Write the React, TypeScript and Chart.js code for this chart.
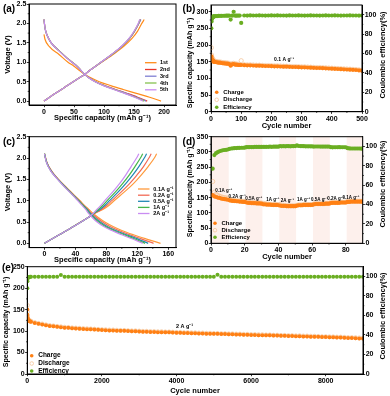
import React, { useEffect, useRef } from 'react';
import { Chart, registerables } from 'chart.js';
Chart.register(...registerables);

const FONT = "'Liberation Sans', Arial, Helvetica, sans-serif";
const W = 390;
const H = 396;

// ---------- Panel (a): galvanostatic curves, first five cycles ----------
const aSeries = ['1st', '2nd', '3rd', '4th', '5th'];
const aColors = ['#FF8C1A', '#E8352B', '#7F7FD2', '#86C24F', '#C98CF2'];
const aDisV1 = [1.72, 1.6, 1.4, 1.2, 1.0, 0.9, 0.8, 0.7, 0.6, 0.5, 0.4, 0.3, 0.2, 0.1, 0.0];
const aDisQ1 = [0, 1.5, 9, 25, 40, 50, 58, 67, 78, 92, 111, 132, 154, 176, 195];
const aDisV = [2.1, 1.9, 1.7, 1.5, 1.3, 1.1, 1.0, 0.9, 0.8, 0.7, 0.6, 0.5, 0.4, 0.3, 0.2, 0.1, 0.0];
const aDisQ2 = [0, 1.5, 5, 12, 25, 39, 47, 55, 61, 67, 75, 86, 101, 119, 138, 156, 172];
const aDisQ3 = [0, 1.5, 5, 12, 25, 39, 47, 55, 61, 67, 75, 86, 100, 118, 137, 154, 170];
const aDisQ4 = [0, 1.5, 5, 12, 25, 39, 47, 55, 61, 67, 74.5, 85.5, 100, 117, 135, 152, 167];
const aDisQ5 = [0, 1.5, 5, 12, 24.5, 38.5, 46.5, 54.5, 61, 67, 74.5, 85, 99, 116, 134, 151, 165];
const aChV = [0, 0.2, 0.4, 0.6, 0.7, 0.8, 0.9, 1.0, 1.2, 1.4, 1.6, 1.8, 2.0, 2.1];
const aChQ1 = [0, 19, 39, 59, 69, 77, 86, 96, 115, 132, 146, 156, 163, 167];
const aChQ2 = [0, 19, 39, 59, 69, 77, 86, 95, 113, 129, 142, 151, 158, 161];
const aChQ3 = [0, 19, 39, 59, 69, 77, 86, 95, 113, 129, 142, 151, 158, 161.5];
const aChQ4 = [0, 19, 39, 59, 69, 77, 86, 95, 113, 129, 141.5, 150.5, 157.5, 160];
const aChQ5 = [0, 19, 39, 59, 69, 77, 86, 95, 112.5, 128.5, 141, 150, 157, 159.5];

// ---------- Panel (c): curves at different rates ----------
const cSeries = ['0.1A g⁻¹', '0.2A g⁻¹', '0.5A g⁻¹', '1A g⁻¹', '2A g⁻¹'];
const cColors = ['#FF9A3C', '#F26A55', '#2088B4', '#45B649', '#C98CF2'];
const cDisV = [2.1, 1.9, 1.7, 1.5, 1.3, 1.1, 1.0, 0.9, 0.8, 0.7, 0.6, 0.5, 0.4, 0.3, 0.2, 0.1, 0.0];
const cDisQ01 = [0, 3, 9, 18, 29, 40, 46, 51, 57, 63, 70, 78, 88, 100, 115, 132, 150];
const cDisQ02 = [0, 3, 9, 18, 28.5, 39.5, 45, 50, 55.5, 61, 67.5, 75, 84, 96, 110, 126, 141];
const cDisQ05 = [0, 2.8, 8.5, 17.5, 28, 39, 44.5, 49.5, 55, 59.5, 65, 72, 80.5, 92, 106, 121, 134];
const cDisQ1 = [0, 2.6, 8.2, 17.2, 27.5, 38.5, 44, 49, 54, 58, 63.5, 70, 78, 89.5, 103, 117, 130];
const cDisQ2 = [0, 2.5, 8, 17, 27, 38, 43, 48, 53, 57, 62, 68, 76, 87, 100, 114, 127];
const cChV = [0, 0.2, 0.4, 0.6, 0.7, 0.8, 0.9, 1.0, 1.2, 1.4, 1.6, 1.8, 2.0, 2.1];
const cChQ01 = [0, 19, 38, 56, 65, 76, 84, 90, 103, 115, 125, 134, 142, 145];
const cChQ02 = [0, 19, 38, 56, 64.5, 74, 81, 87, 99, 110, 119.5, 128, 135, 138];
const cChQ05 = [0, 19, 38, 56, 64, 72, 78.5, 84, 95, 105, 114, 122, 129, 132];
const cChQ1 = [0, 19, 38, 56, 63.5, 70, 76, 81, 91.5, 101, 109.5, 117, 124, 127];
const cChQ2 = [0, 19, 38, 56, 63, 68, 73.5, 78, 88, 97, 105, 112, 119, 122];

// ---------- Panel (b): 500 cycles at 0.1 A/g ----------
const bCycles = [1, 2, 3, 4, 5, 6, 7, 8, 9, 10, 15, 20, 25, 30, 35, 40, 45, 50, 55, 60, 65, 70, 75, 80, 85, 90, 95, 100,
  110, 120, 130, 140, 150, 160, 170, 180, 190, 200, 210, 220, 230, 240, 250, 260, 270, 280, 290, 300,
  310, 320, 330, 340, 350, 360, 370, 380, 390, 400, 410, 420, 430, 440, 450, 460, 470, 480, 490, 500];
const bCharge = [166, 160, 157, 155, 154, 153, 152, 151, 150, 150, 149, 148, 147, 147, 146, 145, 145, 144, 144, 143,
  138, 142, 143, 141, 141, 140, 140, 140,
  139.5, 139, 139, 138.5, 138, 138, 137.5, 137, 137, 136.5, 136, 136, 135.5, 135, 135, 134.5, 134, 134, 133.5, 133,
  133, 132.5, 132, 131.5, 131, 131, 130.5, 130, 129.5, 129, 128.5, 128, 127.5, 127, 126.5, 126, 125.5, 125, 124, 123];
const bDischarge = [192, 170, 163, 160, 158, 156, 155, 154, 153, 152, 151, 150, 149, 149, 148, 147, 147, 146, 146, 145,
  141, 144, 145, 143, 143, 142, 142, 153,
  141, 140.5, 140.5, 140, 139.5, 139.5, 139, 138.5, 138.5, 138, 137.5, 137.5, 137, 136.5, 136.5, 136, 135.5, 135.5, 135, 134.5,
  134.5, 134, 133.5, 133, 132.5, 132.5, 132, 131.5, 131, 130.5, 130, 129.5, 129, 128.5, 128, 127.5, 127, 126.5, 125.5, 124.5];
const bEfficiency = [86, 93, 95.5, 96.5, 97, 97.5, 97.8, 98, 98.2, 98.3, 98.5, 98.6, 98.7, 98.8, 98.8, 98.9, 98.9, 99, 99, 99,
  95, 99, 103, 99, 99, 99.1, 99.1, 91.5,
  99.2, 99.1, 99.3, 99.2, 99.2, 99.3, 99.2, 99.1, 99.2, 99.3, 99.2, 99.3, 99.2, 99.2, 99.1, 99.3, 99.2, 99.2, 99.3, 99.2,
  99.1, 99.2, 99.3, 99.2, 99.2, 99.1, 99.2, 99.3, 99.2, 99.2, 99.3, 99.2, 99.1, 99.2, 99.2, 99.3, 99.2, 99.2, 99.1, 99.2];

// ---------- Panel (d): rate capability, 90 cycles ----------
const dCycles = Array.from({ length: 90 }, (_, i) => i + 1);
const dCharge = [158, 154, 152, 150, 149, 147, 146, 145, 144, 143,
  141, 140, 139, 139, 138, 138, 137, 137, 136, 136,
  134, 133, 133, 132, 132, 132, 131, 131, 131, 130,
  128, 128, 127, 127, 127, 126, 126, 126, 126, 125,
  124, 123, 123, 123, 122, 122, 122, 122, 122, 122,
  124, 125, 125, 125, 126, 126, 126, 126, 126, 126,
  128, 129, 129, 129, 129, 129, 129, 130, 130, 130,
  132, 133, 133, 133, 133, 133, 134, 134, 134, 134,
  136, 136, 137, 137, 137, 137, 137, 137, 137, 137];
const dDischarge = [203, 168, 161, 157, 155, 153, 151, 150, 149, 148,
  144, 142, 141, 140, 140, 139, 139, 138, 138, 138,
  137, 135, 134, 134, 133, 133, 133, 132, 132, 132,
  131, 130, 129, 128, 128, 128, 127, 127, 127, 127,
  127, 125, 124, 124, 123, 123, 123, 123, 123, 123,
  125, 126, 126, 126, 127, 127, 127, 127, 127, 127,
  129, 130, 130, 130, 130, 130, 130, 131, 131, 131,
  134, 134, 134, 134, 134, 134, 135, 135, 135, 135,
  138, 138, 138, 138, 138, 138, 138, 138, 138, 138];
const dEfficiency = [77, 91, 93, 94, 95, 95.5, 96, 96.3, 96.5, 96.8,
  97.5, 97.8, 98, 98.2, 98.3, 98.4, 98.5, 98.6, 98.6, 98.7,
  99.2, 99.2, 99.3, 99.3, 99.3, 99.4, 99.4, 99.4, 99.4, 99.5,
  99.6, 99.5, 99.6, 99.6, 99.7, 99.6, 99.7, 99.7, 99.7, 99.7,
  100.3, 100.1, 100.2, 100.1, 100.2, 100.2, 100.1, 100.2, 100.2, 100.3,
  101, 100.4, 100.3, 100.2, 100.2, 100.1, 100.1, 100.1, 100.1, 100,
  99.8, 99.9, 99.9, 99.9, 99.8, 99.8, 99.8, 99.8, 99.8, 99.8,
  99.3, 99, 99.1, 99.1, 99.1, 99.2, 99.1, 99.1, 99.1, 99.1,
  98.2, 97.9, 97.8, 97.8, 97.8, 97.8, 97.8, 97.8, 97.7, 97.7];
const dRateLabels = ['0.1A g⁻¹', '0.2A g⁻¹', '0.5A g⁻¹', '1A g⁻¹', '2A g⁻¹', '1A g⁻¹', '0.5A g⁻¹', '0.2A g⁻¹', '0.1A g⁻¹'];
const dRateLabelCycle = [7.5, 15.5, 25.3, 36.7, 45.3, 55, 64.3, 74, 83];
const dRateLabelCap = [171, 153, 147, 142, 140, 142, 143, 147, 150];
const dBands = [[0.5, 10.5], [20.5, 30.5], [40.5, 50.5], [60.5, 70.5], [80.5, 90]];

// ---------- Panel (e): long cycling at 2 A/g ----------
const eCycles = [1, 3, 6, 10, 20, 35, 50, 75, ...Array.from({ length: 90 }, (_, i) => (i + 1) * 100)];
const eCharge = [150, 138, 131, 128, 126, 124.5, 123.5, 122.5,
  122, 119, 117, 115.5, 113.5, 112, 111, 110, 109, 108,
  107.5, 106.5, 106, 105.5, 105, 104.5, 104, 103.5, 103, 102.5,
  102, 101.5, 101.5, 101, 100.5, 100.5, 100, 99.5, 99.5, 99,
  98.5, 98.5, 98, 98, 97.5, 97.5, 97, 97, 96.5, 96,
  96, 95.5, 95.5, 95, 95, 94.5, 94.5, 94, 94, 93.5,
  93.5, 93, 93, 92.5, 92.5, 92, 92, 91.5, 91.5, 91,
  91, 90.5, 90.5, 90, 90, 89.5, 89.5, 89, 89, 88.5,
  88.5, 88, 88, 87.5, 87.5, 87, 87, 86.5, 86, 86,
  85.5, 85.5, 85, 85, 84.5, 84, 84, 83.5, 83, 82.5];
const eDischarge = [160, 145, 134, 130, 127.5, 125.5, 124.5, 123.5,
  123, 120, 118, 116.5, 114.5, 113, 112, 111, 110, 109,
  108.5, 107.5, 107, 106.5, 106, 105.5, 105, 104.5, 104, 103.5,
  103, 102.5, 102.5, 102, 101.5, 101.5, 101, 100.5, 100.5, 100,
  99.5, 99.5, 99, 99, 98.5, 98.5, 98, 98, 97.5, 97,
  97, 96.5, 96.5, 96, 96, 95.5, 95.5, 95, 95, 94.5,
  94.5, 94, 94, 93.5, 93.5, 93, 93, 92.5, 92.5, 92,
  92, 91.5, 91.5, 91, 91, 90.5, 90.5, 90, 90, 89.5,
  89.5, 89, 89, 88.5, 88.5, 88, 88, 87.5, 87, 87,
  86.5, 86.5, 86, 86, 85.5, 85, 85, 84.5, 84, 83.5];
const eEfficiency = [88, 95, 97.5, 98.5, 99, 99.3, 99.5, 99.6,
  99.7, 99.6, 99.7, 99.8, 99.7, 99.6, 99.7, 99.7, 101.5, 99.7,
  99.6, 99.7, 99.8, 99.7, 99.7, 99.6, 99.7, 99.7, 99.8, 99.7,
  99.7, 99.6, 99.7, 99.7, 99.8, 99.7, 99.6, 99.7, 99.7, 99.7,
  99.8, 99.7, 99.6, 99.7, 99.7, 99.7, 99.8, 99.7, 99.6, 99.7,
  99.7, 99.7, 99.8, 99.7, 99.6, 99.7, 99.7, 99.7, 99.8, 99.7,
  101.8, 99.7, 99.6, 99.7, 99.7, 99.8, 99.7, 99.7, 99.6, 99.7,
  99.7, 99.8, 99.7, 99.7, 99.6, 99.7, 99.7, 99.8, 99.7, 99.7,
  99.6, 99.7, 99.7, 99.8, 99.7, 99.7, 99.6, 99.7, 99.7, 99.7,
  99.8, 99.7, 99.6, 99.7, 99.7, 99.7, 99.8, 99.7, 99.6, 99.7];

// ---------- Tick values ----------
const voltTicks = [0, 0.5, 1.0, 1.5, 2.0, 2.5];
const aCapTicks = [0, 50, 100, 150, 200];
const cCapTicks = [0, 40, 80, 120, 160];
const bCycleTicks = [0, 100, 200, 300, 400, 500];
const bCapTicks = [0, 50, 100, 150, 200, 250, 300];
const dCycleTicks = [0, 20, 40, 60, 80];
const dCapTicks = [0, 50, 100, 150, 200, 250, 300, 350];
const eCycleTicks = [0, 2000, 4000, 6000, 8000];
const eCapTicks = [0, 50, 100, 150, 200, 250];
const effTicks = [0, 20, 40, 60, 80, 100];

const ORANGE = '#FF8014';
const RING = '#F5C59A';
const GREEN = '#6AAE22';
const BAND = '#FDF0EC';

const AX_W = 20; // width of a vertical axis box (tick marks + labels)
const AX_H = 12; // height of a horizontal axis box

// ---------- helpers ----------
const pts = (xs: number[], ys: number[]) => xs.map((x, i) => ({ x, y: ys[i] }));

function axis(pos: string, min: number, max: number, ticks: number[], fmt?: (v: number) => string) {
  return {
    type: 'linear',
    position: pos,
    min,
    max,
    afterBuildTicks: (s: any) => { s.ticks = ticks.map((v) => ({ value: v })); },
    afterFit: (s: any) => {
      if (pos === 'bottom') s.height = AX_H; else s.width = AX_W;
      s.paddingLeft = 0; s.paddingRight = 0; s.paddingTop = 0; s.paddingBottom = 0;
    },
    ticks: {
      autoSkip: false,
      maxRotation: 0,
      padding: 0.5,
      color: '#000',
      font: { family: FONT, size: 7, weight: 'bold' },
      callback: (v: any) => (fmt ? fmt(Number(v)) : String(v)),
    },
    grid: { drawOnChartArea: false, drawTicks: true, tickLength: 2.2, color: '#000', tickWidth: 0.8 },
    border: { display: true, color: '#000', width: 1 },
    title: { display: false },
  };
}

type Txt = { text: string; x: number; y: number; size: number; rot?: boolean };
type Leg = { label: string; kind: 'line' | 'dot' | 'ring'; color: string; x: number; y: number; tx: number; size: number };
type Ann = { text: string; dx: number; dy: number; size: number };
type Overlay = { texts: Txt[]; legend: Leg[]; ann: Ann[]; bands?: number[][] };

// minor tick marks halfway between the major ones, on every axis
function drawMinor(ctx: CanvasRenderingContext2D, chart: any) {
  const a = chart.chartArea;
  ctx.strokeStyle = '#000';
  ctx.lineWidth = 0.7;
  for (const id of Object.keys(chart.scales)) {
    const s = chart.scales[id];
    const t = s.ticks.map((k: any) => k.value);
    for (let i = 0; i < t.length - 1; i++) {
      const mid = (t[i] + t[i + 1]) / 2;
      ctx.beginPath();
      if (s.position === 'bottom') {
        const x = s.getPixelForValue(mid);
        ctx.moveTo(x, a.bottom); ctx.lineTo(x, a.bottom + 1.3);
      } else if (s.position === 'left') {
        const y = s.getPixelForValue(mid);
        ctx.moveTo(a.left, y); ctx.lineTo(a.left - 1.3, y);
      } else {
        const y = s.getPixelForValue(mid);
        ctx.moveTo(a.right, y); ctx.lineTo(a.right + 1.3, y);
      }
      ctx.stroke();
    }
  }
}

function makeOverlay(o: Overlay) {
  return {
    id: 'overlay',
    beforeDatasetsDraw(chart: any) {
      if (!o.bands) return;
      const { ctx, chartArea: a, scales } = chart;
      ctx.save();
      ctx.fillStyle = BAND;
      for (const [s, e] of o.bands) {
        const x0 = scales.x.getPixelForValue(s);
        const x1 = scales.x.getPixelForValue(e);
        ctx.fillRect(x0, a.top, x1 - x0, a.bottom - a.top);
      }
      ctx.restore();
    },
    afterDraw(chart: any) {
      const { ctx, chartArea: a, scales } = chart;
      ctx.save();
      ctx.strokeStyle = '#000';
      ctx.lineWidth = 1;
      ctx.strokeRect(a.left, a.top, a.right - a.left, a.bottom - a.top);
      drawMinor(ctx, chart);
      ctx.fillStyle = '#000';
      ctx.textBaseline = 'middle';
      for (const t of o.texts) {
        ctx.font = `bold ${t.size}px ${FONT}`;
        ctx.textAlign = 'center';
        if (t.rot) {
          ctx.save();
          ctx.translate(t.x, t.y);
          ctx.rotate(-Math.PI / 2);
          ctx.fillText(t.text, 0, 0);
          ctx.restore();
        } else {
          ctx.fillText(t.text, t.x, t.y);
        }
      }
      for (const l of o.legend) {
        if (l.kind === 'line') {
          ctx.strokeStyle = l.color;
          ctx.lineWidth = 1.3;
          ctx.beginPath();
          ctx.moveTo(l.x, l.y);
          ctx.lineTo(l.x + 11.5, l.y);
          ctx.stroke();
        } else if (l.kind === 'dot') {
          ctx.fillStyle = l.color;
          ctx.beginPath();
          ctx.arc(l.x, l.y, 1.8, 0, Math.PI * 2);
          ctx.fill();
        } else {
          ctx.strokeStyle = l.color;
          ctx.lineWidth = 0.8;
          ctx.beginPath();
          ctx.arc(l.x, l.y, 1.8, 0, Math.PI * 2);
          ctx.stroke();
        }
        ctx.fillStyle = '#000';
        ctx.font = `bold ${l.size}px ${FONT}`;
        ctx.textAlign = 'left';
        ctx.fillText(l.label, l.tx, l.y);
      }
      for (const n of o.ann) {
        ctx.font = `bold ${n.size}px ${FONT}`;
        ctx.textAlign = 'center';
        ctx.fillStyle = '#000';
        ctx.fillText(n.text, scales.x.getPixelForValue(n.dx), scales.y.getPixelForValue(n.dy));
      }
      ctx.restore();
    },
  };
}

// plot rectangle (L, T, R, B) in page pixels -> layout padding around the axis boxes
function baseOptions(L: number, T: number, R: number, B: number, hasRight: boolean, scales: any) {
  return {
    responsive: false,
    maintainAspectRatio: false,
    devicePixelRatio: 1,
    animation: false,
    events: [],
    layout: {
      padding: {
        left: L - AX_W,
        top: T,
        right: W - R - (hasRight ? AX_W : 0),
        bottom: H - B - AX_H,
      },
    },
    plugins: { legend: { display: false }, tooltip: { enabled: false } },
    scales,
  };
}

const f1 = (v: number) => v.toFixed(1);
const CAP_TITLE = 'Specific capacity (mAh g⁻¹)';
const CE_TITLE = 'Coulombic efficiency(%)';
const TS = 7.5;
const TSV = 7.1;

function lineDs(label: string, color: string, xs: number[], ys: number[], order: number) {
  return {
    type: 'line',
    label,
    data: pts(xs, ys),
    borderColor: color,
    backgroundColor: color,
    borderWidth: 1.2,
    pointRadius: 0,
    cubicInterpolationMode: 'monotone',
    fill: false,
    order,
  };
}

function cycleDatasets(cyc: number[], chg: number[], dis: number[], eff: number[], r: number) {
  return [
    { type: 'scatter', label: 'Efficiency', data: pts(cyc, eff), yAxisID: 'y2', pointRadius: r, pointBackgroundColor: GREEN, pointBorderWidth: 0, order: 0 },
    { type: 'scatter', label: 'Charge', data: pts(cyc, chg), yAxisID: 'y', pointRadius: r, pointBackgroundColor: ORANGE, pointBorderWidth: 0, order: 1 },
    { type: 'scatter', label: 'Discharge', data: pts(cyc, dis), yAxisID: 'y', pointRadius: r, pointBackgroundColor: 'rgba(0,0,0,0)', pointBorderColor: RING, pointBorderWidth: 0.8, order: 2 },
  ];
}

function cycleLegend(x: number, ys: number[], size: number): Leg[] {
  return [
    { label: 'Charge', kind: 'dot', color: ORANGE, x, y: ys[0], tx: x + 6.5, size },
    { label: 'Discharge', kind: 'ring', color: RING, x, y: ys[1], tx: x + 6.5, size },
    { label: 'Efficiency', kind: 'dot', color: GREEN, x, y: ys[2], tx: x + 6.5, size },
  ];
}

function buildConfigs(): any[] {
  // (a)
  const aDis = [pts(aDisQ1, aDisV1), pts(aDisQ2, aDisV), pts(aDisQ3, aDisV), pts(aDisQ4, aDisV), pts(aDisQ5, aDisV)];
  const aChQ = [aChQ1, aChQ2, aChQ3, aChQ4, aChQ5];
  const aDatasets: any[] = [];
  aSeries.forEach((s, i) => {
    aDatasets.push({ ...lineDs(s, aColors[i], [], [], 5 - i), data: aDis[i] });
    aDatasets.push(lineDs(s, aColors[i], aChQ[i], aChV, 5 - i));
  });
  const aLegY = [62.7, 69.5, 76.2, 83, 89.8];
  const cfgA = {
    type: 'line',
    data: { datasets: aDatasets },
    options: baseOptions(29, 4, 176, 105, false, {
      x: axis('bottom', -25, 220, aCapTicks),
      y: axis('left', -0.1, 2.5, voltTicks, f1),
    }),
    plugins: [makeOverlay({
      texts: [
        { text: '(a)', x: 9, y: 9, size: 10 },
        { text: 'Voltage (V)', x: 8, y: 54.5, size: TS, rot: true },
        { text: CAP_TITLE, x: 102.5, y: 117.5, size: TS },
      ],
      legend: aSeries.map((s, i) => ({ label: s, kind: 'line' as const, color: aColors[i], x: 145, y: aLegY[i], tx: 160, size: 5.5 })),
      ann: [],
    })],
  };

  // (c)
  const cDisQ = [cDisQ01, cDisQ02, cDisQ05, cDisQ1, cDisQ2];
  const cChQ = [cChQ01, cChQ02, cChQ05, cChQ1, cChQ2];
  const cDatasets: any[] = [];
  cSeries.forEach((s, i) => {
    cDatasets.push(lineDs(s, cColors[i], cDisQ[i], cDisV, 5 - i));
    cDatasets.push(lineDs(s, cColors[i], cChQ[i], cChV, 5 - i));
  });
  const cLegY = [189, 195.2, 201.3, 207.4, 213.5];
  const cfgC = {
    type: 'line',
    data: { datasets: cDatasets },
    options: baseOptions(29, 136.7, 176, 247.6, false, {
      x: axis('bottom', -20, 170, cCapTicks),
      y: axis('left', -0.1, 2.5, voltTicks, f1),
    }),
    plugins: [makeOverlay({
      texts: [
        { text: '(c)', x: 9, y: 142, size: 10 },
        { text: 'Voltage (V)', x: 8, y: 192, size: TS, rot: true },
        { text: CAP_TITLE, x: 102.5, y: 260, size: TS },
      ],
      legend: cSeries.map((s, i) => ({ label: s, kind: 'line' as const, color: cColors[i], x: 138, y: cLegY[i], tx: 153.3, size: 5.5 })),
      ann: [],
    })],
  };

  // (b)
  const cfgB = {
    type: 'scatter',
    data: { datasets: cycleDatasets(bCycles, bCharge, bDischarge, bEfficiency, 2.1) },
    options: baseOptions(211, 5, 362, 111.7, true, {
      x: axis('bottom', 0, 500, bCycleTicks),
      y: axis('left', 0, 320, bCapTicks),
      y2: axis('right', 0, 110, effTicks),
    }),
    plugins: [makeOverlay({
      texts: [
        { text: '(b)', x: 189, y: 9, size: 10 },
        { text: CAP_TITLE, x: 190, y: 63, size: TSV, rot: true },
        { text: CE_TITLE, x: 383, y: 55, size: TS, rot: true },
        { text: 'Cycle number', x: 286.5, y: 125.5, size: TS },
      ],
      legend: cycleLegend(216.7, [92.3, 99.8, 107.2], 6),
      ann: [{ text: '0.1 A g⁻¹', dx: 242, dy: 155, size: 5 }],
    })],
  };

  // (d)
  const cfgD = {
    type: 'scatter',
    data: { datasets: cycleDatasets(dCycles, dCharge, dDischarge, dEfficiency, 2.1) },
    options: baseOptions(211, 136.7, 362.7, 243.3, true, {
      x: axis('bottom', 0, 90, dCycleTicks),
      y: axis('left', 0, 350, dCapTicks),
      y2: axis('right', 0, 110, effTicks),
    }),
    plugins: [makeOverlay({
      texts: [
        { text: '(d)', x: 189, y: 142, size: 10 },
        { text: CAP_TITLE, x: 190, y: 192, size: TSV, rot: true },
        { text: CE_TITLE, x: 383, y: 184, size: TS, rot: true },
        { text: 'Cycle number', x: 287, y: 257, size: TS },
      ],
      legend: cycleLegend(215, [223.3, 230.2, 237.2], 6),
      ann: dRateLabels.map((t, i) => ({ text: t, dx: dRateLabelCycle[i], dy: dRateLabelCap[i], size: 4.5 })),
      bands: dBands,
    })],
  };

  // (e)
  const cfgE = {
    type: 'scatter',
    data: { datasets: cycleDatasets(eCycles, eCharge, eDischarge, eEfficiency, 2) },
    options: baseOptions(27.3, 266.7, 363, 374, true, {
      x: axis('bottom', 0, 9000, eCycleTicks),
      y: axis('left', 0, 250, eCapTicks),
      y2: axis('right', 0, 110, effTicks),
    }),
    plugins: [makeOverlay({
      texts: [
        { text: '(e)', x: 8, y: 268, size: 10 },
        { text: CAP_TITLE, x: 6, y: 322, size: TSV, rot: true },
        { text: CE_TITLE, x: 383, y: 316, size: TS, rot: true },
        { text: 'Cycle number', x: 195, y: 390.5, size: TS },
      ],
      legend: cycleLegend(31.7, [355.7, 363.5, 371], 6.5),
      ann: [{ text: '2 A g⁻¹', dx: 4215, dy: 110, size: 5.5 }],
    })],
  };

  return [cfgA, cfgB, cfgC, cfgD, cfgE];
}

export default function App() {
  const r0 = useRef<HTMLCanvasElement>(null);
  const r1 = useRef<HTMLCanvasElement>(null);
  const r2 = useRef<HTMLCanvasElement>(null);
  const r3 = useRef<HTMLCanvasElement>(null);
  const r4 = useRef<HTMLCanvasElement>(null);
  const refs = [r0, r1, r2, r3, r4];

  useEffect(() => {
    const cfgs = buildConfigs();
    const charts = cfgs.map((cfg, i) => new Chart(refs[i].current as HTMLCanvasElement, cfg));
    return () => charts.forEach((c) => c.destroy());
  }, []);

  return (
    <div style={{ position: 'absolute', left: 0, top: 0, width: W, height: H, background: '#fff', overflow: 'hidden' }}>
      {refs.map((r, i) => (
        <canvas key={i} ref={r} width={W} height={H}
          style={{ position: 'absolute', left: 0, top: 0, width: W, height: H }} />
      ))}
    </div>
  );
}
